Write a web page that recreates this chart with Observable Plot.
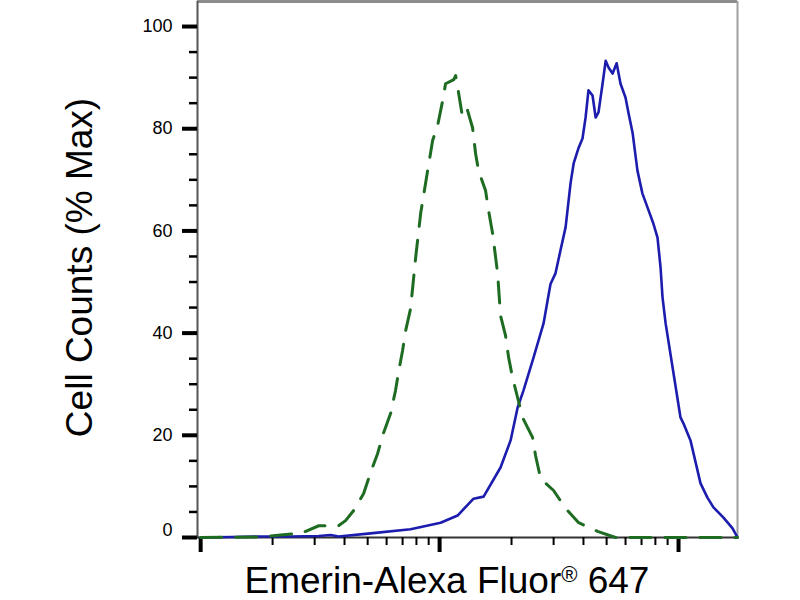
<!DOCTYPE html>
<html>
<head>
<meta charset="utf-8">
<script src="https://cdn.jsdelivr.net/npm/d3@7"></script>
<script src="https://cdn.jsdelivr.net/npm/@observablehq/plot@0.6"></script>
<style>
  body { margin: 0; background: #fff; font-family: "Liberation Sans", Arial, sans-serif; }
  #chart svg { display: block; }
  #xtitle {
    width: 800px; box-sizing: border-box; padding-left: 94px;
    text-align: center; font-size: 37px; line-height: 36px; color: #000;
  }
  #xtitle sup { font-size: 22px; line-height: 0; vertical-align: 11px; }
</style>
</head>
<body>
<div id="chart"></div>
<div id="xtitle">Emerin-Alexa Fluor<sup>®</sup> 647</div>
<script>
// stained sample (solid blue)
const blueX = [100, 134, 178, 238, 312, 350, 378, 514, 756, 1010, 1189, 1387, 1528, 1799, 1982,
  2120, 2245, 2472, 2723, 2831, 2912, 3055, 3206, 3367, 3532, 3639, 3819, 3963, 4083, 4198,
  4366, 4498, 4624, 4809, 4955, 5093, 5297, 5508, 5717, 5998, 6180, 6427, 6730, 7063, 7413,
  7852, 8166, 8410, 8570, 8830, 9530, 10190, 10490, 11220, 12360, 13210, 14000, 15420, 16830, 17650];
const blueY = [0, 0.1, 0.2, 0.2, 0.3, 0.5, 0.2, 0.8, 1.6, 2.9, 4.3, 7.6, 8.0, 13.7, 19.0,
  25.4, 28.8, 35.2, 41.9, 46.4, 49.6, 51.7, 56.2, 60.7, 69.3, 73.2, 76.3, 78.1, 82.2, 87.5,
  86.5, 82.2, 83.2, 88.8, 93.3, 92.0, 90.8, 92.8, 88.8, 86.1, 83.0, 79.1, 71.8, 67.3, 64.6,
  61.4, 58.7, 52.8, 47.0, 41.9, 32.1, 23.5, 22.3, 19.0, 10.6, 7.8, 5.9, 3.9, 1.8, 0];

// isotype control (dashed green)
const greenX = [100, 178, 216, 262, 312, 378, 404, 437, 481, 514, 550, 583, 624, 654, 673,
  700, 721, 756, 794, 833, 891, 935, 981, 1030, 1059, 1146, 1167, 1200, 1248, 1309,
  1374, 1415, 1455, 1557, 1603, 1667, 1749, 1799, 1888, 1945, 2020, 2120, 2224, 2449, 2522,
  2648, 3000, 3367, 3819, 4583, 5445, 17650];
const greenY = [0, 0.1, 0.5, 0.8, 2.3, 2.3, 3.3, 5.3, 8.6, 12.7, 16.4, 20.5, 24.3, 28.8, 32.3,
  36.6, 40.5, 44.8, 54.8, 63.4, 71.8, 77.7, 80.6, 85.5, 88.8, 89.6, 90.4, 87.1, 82.2, 83.6,
  80.2, 75.1, 71.8, 67.9, 64.0, 59.5, 51.7, 43.4, 39.5, 35.2, 31.3, 27.4, 23.5, 19.6, 16.0,
  11.5, 9.2, 5.7, 2.9, 1.2, 0, 0];

const yMajor = [20, 40, 60, 80, 100];
const yMinor = [5, 10, 15, 25, 30, 35, 45, 50, 55, 65, 70, 75, 85, 90, 95];
const xMajor = [100, 1000, 10000];
const xMinor = [200, 300, 400, 500, 600, 700, 800, 900, 2000, 3000, 4000, 5000, 6000, 7000, 8000, 9000];
const xDomain = [97, 17650];
const yDomain = [0, 104.9];

const blue = blueX.map((x, i) => ({x, y: blueY[i]}));
const green = greenX.map((x, i) => ({x, y: greenY[i]}));

const plot = Plot.plot({
  width: 800,
  height: 563,
  marginLeft: 197,
  marginRight: 63,
  marginTop: 1,
  marginBottom: 26,
  style: {fontFamily: "Liberation Sans, Arial, sans-serif", background: "white", color: "black"},
  x: {type: "log", domain: xDomain, label: null},
  y: {domain: yDomain, label: null},
  marks: [
    Plot.ruleY([yDomain[1]], {stroke: "#8c8c8c", strokeWidth: 3}),
    Plot.ruleX([xDomain[1]], {stroke: "#a0a0a0", strokeWidth: 2}),
    Plot.ruleX([xDomain[0]], {stroke: "#555", strokeWidth: 2}),
    Plot.ruleY([0], {stroke: "#333", strokeWidth: 2}),
    Plot.axisY(yMinor, {tickSize: 8, strokeWidth: 2.5, fill: "none"}),
    Plot.axisY(yMajor, {tickSize: 15, strokeWidth: 4, tickPadding: 10, fontSize: 18}),
    Plot.axisY([0], {tickSize: 15, strokeWidth: 4, fill: "none"}),
    Plot.axisY([0], {tickSize: 0, tickPadding: 25, fontSize: 18, dy: -7}),
    Plot.axisX(xMinor, {tickSize: 8, strokeWidth: 2, fill: "none"}),
    Plot.axisX(xMajor, {tickSize: 15, strokeWidth: 4, fill: "none"}),
    Plot.line(blue, {x: "x", y: "y", stroke: "#1c1cae", strokeWidth: 2.6}),
    Plot.line(green, {x: "x", y: "y", stroke: "#1e6b22", strokeWidth: 3, strokeDasharray: "21,14"}),
    Plot.text(["Cell Counts (% Max)"], {
      frameAnchor: "left", rotate: -90, dx: -106, dy: -2,
      textAnchor: "middle", lineAnchor: "bottom", fontSize: 37, fill: "black"
    })
  ]
});

document.getElementById("chart").appendChild(plot);
</script>
</body>
</html>
